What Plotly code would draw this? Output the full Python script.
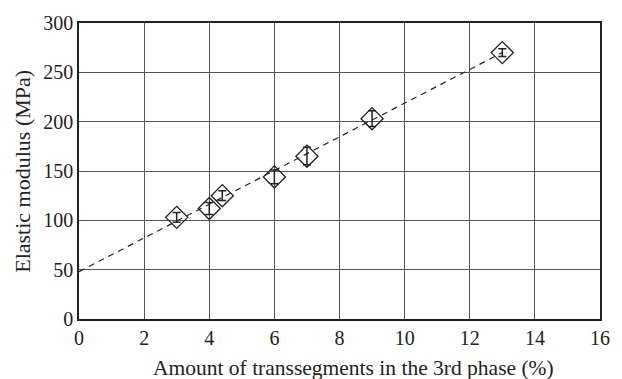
import plotly.graph_objects as go

# Measured elastic modulus vs. transsegment content
trans_pct = [3, 4, 4.4, 6, 7, 9, 13]
modulus = [103, 112, 125, 144, 165, 203, 270]
modulus_err = [5, 6, 5, 7, 9, 8, 4]

# Linear trend line
fit_x = [0, 13]
fit_y = [48, 270]

x_ticks = [0, 2, 4, 6, 8, 10, 12, 14, 16]
y_ticks = [0, 50, 100, 150, 200, 250, 300]

font_family = "Liberation Serif, DejaVu Serif, serif"
ink = "#222"

fig = go.Figure()
fig.add_trace(go.Scatter(
    x=fit_x, y=fit_y, mode="lines",
    line=dict(color=ink, width=1.2, dash="6px,5px"),
    showlegend=False, hoverinfo="skip",
))
fig.add_trace(go.Scatter(
    x=trans_pct, y=modulus, mode="markers",
    marker=dict(symbol="diamond-open", size=17, color=ink,
                line=dict(width=1.3, color=ink)),
    error_y=dict(type="data", array=modulus_err, visible=True,
                 color=ink, thickness=1.5, width=4),
    showlegend=False,
))

axis_common = dict(
    showgrid=True, gridcolor="#555", gridwidth=1.2,
    showline=True, linecolor=ink, linewidth=1.6, mirror=True,
    zeroline=False, ticks="",
    tickfont=dict(size=20, color=ink, family=font_family),
)

fig.update_layout(
    width=622, height=379,
    margin=dict(l=79, r=15, t=23, b=60),
    paper_bgcolor="white", plot_bgcolor="white",
    font=dict(family=font_family, color=ink),
    xaxis=dict(range=[0, 16], tickvals=x_ticks, **axis_common),
    yaxis=dict(range=[0, 300], tickvals=y_ticks, **axis_common),
    annotations=[
        dict(text="Amount of transsegments in the 3rd phase (%)",
             xref="paper", yref="paper", x=(357 - 79) / 528, y=-(368 - 319) / 296,
             xanchor="center", yanchor="middle", showarrow=False,
             font=dict(size=21.5, color=ink, family=font_family)),
        dict(text="Elastic modulus (MPa)",
             xref="paper", yref="paper", x=-(79 - 21) / 528, y=0.5,
             xanchor="center", yanchor="middle", textangle=-90, showarrow=False,
             font=dict(size=22, color=ink, family=font_family)),
    ],
)

fig.write_html("out.html")
